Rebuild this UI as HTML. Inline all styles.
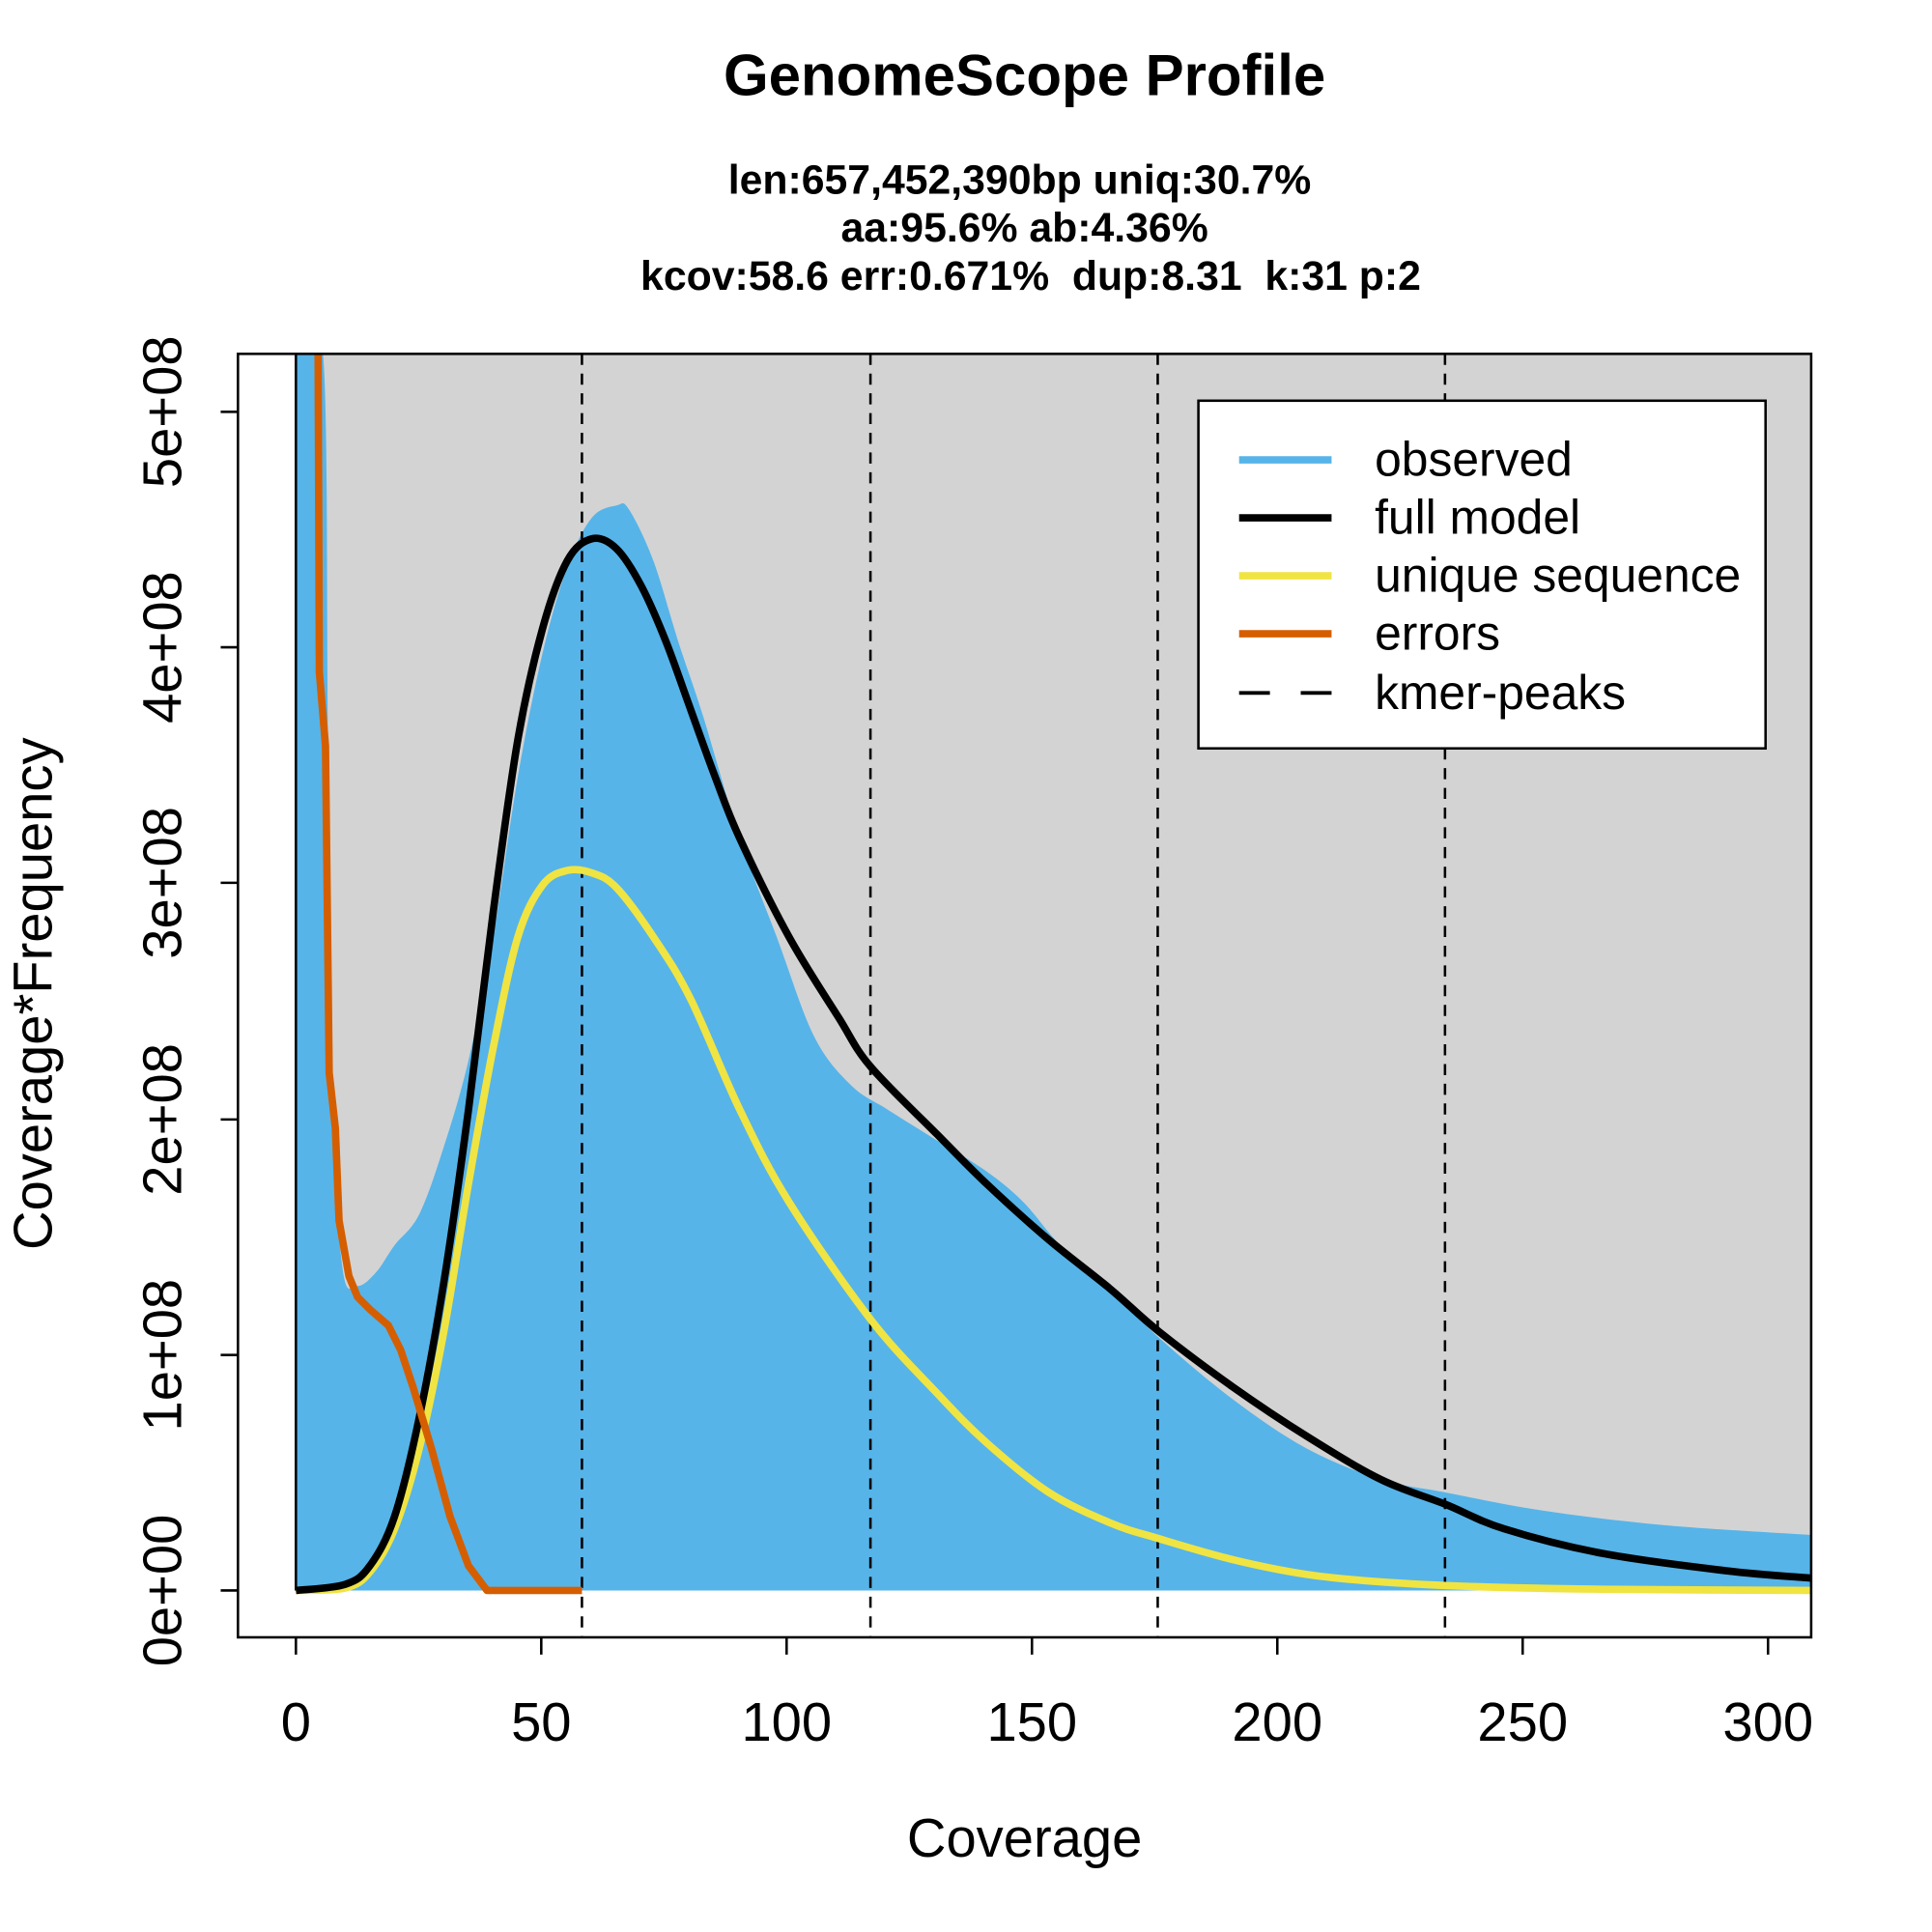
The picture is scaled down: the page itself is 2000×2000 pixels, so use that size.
<!DOCTYPE html>
<html><head><style>html,body{margin:0;padding:0;background:#fff}svg{display:block}</style></head>
<body>
<svg width="2000" height="2000" viewBox="0 0 1567 1567" xmlns="http://www.w3.org/2000/svg" font-family="Liberation Sans, Arial, sans-serif">
<defs><clipPath id="c"><rect x="193" y="287" width="1276" height="1041"/></clipPath></defs>
<rect x="240" y="287" width="1229" height="1003" fill="#d3d3d3"/>
<g clip-path="url(#c)">
<path class="sm" data-fill="1" fill="#56b4e9" d="" data-p="240,287 262,287 266,600 270,900 278,1030 290,1043 305,1032 320,1010 340,985 360,930 380,860 400,760 420,630 440,530 460,460 480,420 500,410 510,413 530,455 550,520 570,580 600,680 630,760 660,840 690,880 720,900 760,925 800,950 830,975 860,1010 900,1045 940,1085 1000,1135 1060,1175 1120,1200 1170,1210 1250,1225 1350,1237 1469,1245 1469,1290 240,1290"/>
<line x1="240" y1="287" x2="240" y2="1290" stroke="#000" stroke-width="2"/>
<g stroke="#000" stroke-width="2" stroke-dasharray="9,7">
<line x1="472" y1="287" x2="472" y2="1328"/><line x1="706" y1="287" x2="706" y2="1328"/><line x1="939" y1="287" x2="939" y2="1328"/><line x1="1172" y1="287" x2="1172" y2="1328"/>
</g>
<path class="sm" fill="none" stroke="#f0e442" stroke-width="6" d="" data-p="240,1290 280,1288 300,1275 320,1240 340,1175 360,1080 380,960 400,850 420,760 440,718 460,706 480,708 500,720 530,760 560,810 600,900 640,975 706,1070 760,1130 800,1170 850,1210 900,1235 940,1248 1000,1265 1060,1277 1120,1283 1200,1287 1300,1289 1469,1290"/>
<path class="sm" fill="none" stroke="#000" stroke-width="6" d="" data-p="240,1290 280,1285 300,1270 320,1230 340,1150 360,1040 380,900 400,740 420,600 440,510 460,455 480,437 500,445 520,475 540,520 560,575 580,630 600,680 640,760 680,825 706,865 760,920 800,960 850,1005 900,1045 940,1080 1000,1125 1060,1165 1120,1200 1172,1220 1220,1240 1300,1260 1400,1274 1469,1280"/>
<polyline fill="none" stroke="#d55e00" stroke-width="6" stroke-linejoin="round" points="258,287 259,545 264,605 267,870 272,915 275,990 283,1035 290,1052 300,1062 315,1075 325,1095 335,1125 350,1175 365,1230 380,1270 395,1290 472,1290"/>
</g>
<rect x="193" y="287" width="1276" height="1041" fill="none" stroke="#000" stroke-width="2"/>
<g stroke="#000" stroke-width="2">
<line x1="240" y1="1328" x2="240" y2="1342"/><line x1="439" y1="1328" x2="439" y2="1342"/><line x1="638" y1="1328" x2="638" y2="1342"/><line x1="837" y1="1328" x2="837" y2="1342"/><line x1="1036" y1="1328" x2="1036" y2="1342"/><line x1="1235" y1="1328" x2="1235" y2="1342"/><line x1="1434" y1="1328" x2="1434" y2="1342"/>
<line x1="193" y1="1290" x2="179" y2="1290"/><line x1="193" y1="1099" x2="179" y2="1099"/><line x1="193" y1="908" x2="179" y2="908"/><line x1="193" y1="716" x2="179" y2="716"/><line x1="193" y1="525" x2="179" y2="525"/><line x1="193" y1="334" x2="179" y2="334"/>
</g>
<g font-size="44" text-anchor="middle">
<text x="240" y="1412">0</text><text x="439" y="1412">50</text><text x="638" y="1412">100</text><text x="837" y="1412">150</text><text x="1036" y="1412">200</text><text x="1235" y="1412">250</text><text x="1434" y="1412">300</text>
<text transform="translate(147,1290) rotate(-90)">0e+00</text>
<text transform="translate(147,1099) rotate(-90)">1e+08</text>
<text transform="translate(147,908) rotate(-90)">2e+08</text>
<text transform="translate(147,716) rotate(-90)">3e+08</text>
<text transform="translate(147,525) rotate(-90)">4e+08</text>
<text transform="translate(147,334) rotate(-90)">5e+08</text>
<text x="831" y="1506">Coverage</text>
<text transform="translate(42,806) rotate(-90)">Coverage*Frequency</text>
</g>
<g font-weight="bold" text-anchor="middle">
<text x="831" y="77" font-size="47">GenomeScope Profile</text>
<text x="827" y="157" font-size="33.5">len:657,452,390bp uniq:30.7%</text>
<text x="831" y="196" font-size="33.5">aa:95.6% ab:4.36%</text>
<text x="836" y="235" font-size="33.5" xml:space="preserve">kcov:58.6 err:0.671%  dup:8.31  k:31 p:2</text>
</g>
<rect x="972" y="325" width="460" height="282" fill="#fff" stroke="#000" stroke-width="2"/>
<g stroke-width="6">
<line x1="1005" y1="373" x2="1080" y2="373" stroke="#56b4e9"/>
<line x1="1005" y1="420" x2="1080" y2="420" stroke="#000"/>
<line x1="1005" y1="467" x2="1080" y2="467" stroke="#f0e442"/>
<line x1="1005" y1="514" x2="1080" y2="514" stroke="#d55e00"/>
<line x1="1005" y1="562" x2="1080" y2="562" stroke="#000" stroke-width="3" stroke-dasharray="25,25"/>
</g>
<g font-size="39">
<text x="1115" y="386">observed</text><text x="1115" y="433">full model</text><text x="1115" y="480">unique sequence</text><text x="1115" y="527">errors</text><text x="1115" y="575">kmer-peaks</text>
</g>
</svg>
<script>
document.querySelectorAll('path.sm').forEach(function(el){
 var p=el.getAttribute('data-p').trim().split(/\s+/).map(function(s){return s.split(',').map(Number);});
 var fill=el.getAttribute('data-fill');
 var pts=fill?p.slice(0,p.length-2):p;
 var d='M'+pts[0][0]+','+pts[0][1];
 for(var i=0;i<pts.length-1;i++){
  var p0=pts[i-1]||pts[i],p1=pts[i],p2=pts[i+1],p3=pts[i+2]||p2;
  var c1x=p1[0]+(p2[0]-p0[0])/6,c1y=p1[1]+(p2[1]-p0[1])/6;
  var c2x=p2[0]-(p3[0]-p1[0])/6,c2y=p2[1]-(p3[1]-p1[1])/6;
  d+=' C'+c1x+','+c1y+' '+c2x+','+c2y+' '+p2[0]+','+p2[1];
 }
 if(fill){d+=' L'+p[p.length-2].join(',')+' L'+p[p.length-1].join(',')+' Z';}
 el.setAttribute('d',d);
});
</script>
</body></html>
